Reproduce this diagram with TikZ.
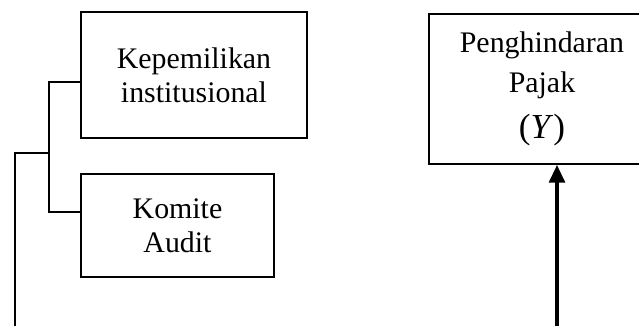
\documentclass[tikz,border=0pt]{standalone}
\usepackage{fontspec}
\setmainfont{Liberation Serif}
\usepackage{tikz}
\usetikzlibrary{calc,arrows.meta}

\begin{document}
\begin{tikzpicture}[x=0.02cm,y=-0.02cm,
            kotak/.style={draw,line width=1.1pt,align=center,inner sep=0pt,font=\fontsize{17}{19.5}\selectfont},
            garis/.style={line width=1.1pt},
            panah/.style={line width=1.8pt,-{Triangle[length=10pt,width=9pt]}}]
            \useasboundingbox (0,0) rectangle (639,325);
            \clip (0,0) rectangle (639,325);
            \node[kotak,minimum width=4.52cm,minimum height=2.52cm] (KI) at (194,75) {Kepemilikan\\institusional};
            \node[kotak,minimum width=3.86cm,minimum height=2.06cm] (KA) at (177.5,225.5) {Komite\\Audit};
            \node[kotak,minimum width=4.52cm,minimum height=3cm,font=\fontsize{17}{23}\selectfont] (PP) at (542,89) {Penghindaran\\Pajak\\[3pt]{\fontsize{20}{23}\selectfont(\textit{Y})}};
            \coordinate (tengah) at (48,153);
            \coordinate (bawah) at (15,330);
            \coordinate (pangkal) at (557,330);
            \draw[garis] ([yshift=-0.14cm]KI.west) -- ++(-31,0) |- ([yshift=0.27cm]KA.west);
            \draw[garis] (tengah) -| (bawah);
            \draw[panah] (pangkal) -- (pangkal |- PP.south);
\end{tikzpicture}
\end{document}
